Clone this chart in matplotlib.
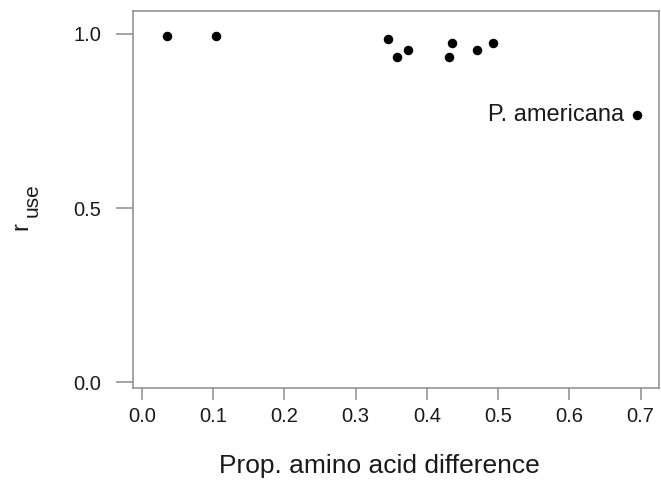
import numpy as np
import matplotlib.pyplot as plt

plt.rcParams['font.family'] = ['Liberation Sans', 'DejaVu Sans']

# Proportion amino acid difference vs r_use
aa_diff = [0.036, 0.104, 0.346, 0.358, 0.373, 0.431, 0.435, 0.471, 0.493, 0.695]
r_use = [0.995, 0.995, 0.985, 0.935, 0.954, 0.934, 0.973, 0.953, 0.973, 0.767]
label_name = 'P. americana'
label_idx = 9

xticks = np.arange(0, 0.71, 0.1)
yticks = [0.0, 0.5, 1.0]

fig = plt.figure(figsize=(6.61, 4.83), dpi=100)
ax = fig.add_axes([0.2017, 0.196, 0.795, 0.782])

ax.scatter(aa_diff, r_use, s=34, color='black', zorder=3)
ax.annotate(label_name, (aa_diff[label_idx], r_use[label_idx]),
            xytext=(-9, 0), textcoords='offset points',
            ha='right', va='center', fontsize=17, color='#1a1a1a')

ax.set_xlim(-0.0118, 0.7255)
ax.set_ylim(-0.018, 1.067)
ax.set_xticks(xticks)
ax.set_xticklabels(['%.1f' % v for v in xticks])
ax.set_yticks(yticks)
ax.set_yticklabels(['%.1f' % v for v in yticks])

gray = '#8c8c8c'
for sp in ax.spines.values():
    sp.set_color(gray)
    sp.set_linewidth(1.1)
ax.tick_params(axis='x', length=8.5, width=1.1, color=gray, labelsize=14.5,
               labelcolor='#1a1a1a', pad=5)
ax.tick_params(axis='y', length=12, width=1.1, color=gray, labelsize=14.5,
               labelcolor='#1a1a1a', pad=11)

ax.set_xlabel('Prop. amino acid difference', fontsize=19, color='#1a1a1a')
ax.xaxis.set_label_coords(0.469, -0.206)
ax.xaxis.label.set_verticalalignment('center')

# y label: "r" with subscript "use"
fig.text(21 / 661, 1 - 226 / 483, 'r', rotation=90, fontsize=17,
         ha='center', va='center', color='#1a1a1a')
fig.text(32 / 661, 1 - 200 / 483, 'use', rotation=90, fontsize=15,
         ha='center', va='center', color='#1a1a1a')

plt.savefig('out.png', dpi=100)
